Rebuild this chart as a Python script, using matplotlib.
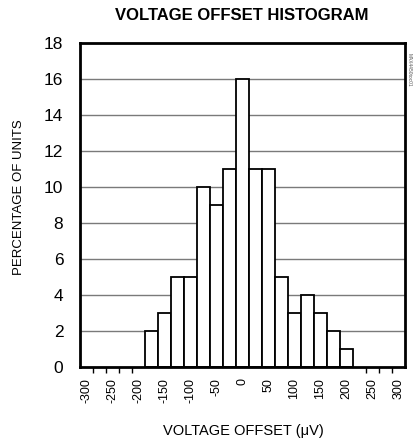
import matplotlib
matplotlib.use("Agg")
import matplotlib.pyplot as plt
from matplotlib.ticker import FixedLocator

FAM = ['Liberation Sans Narrow', 'DejaVu Sans Condensed', 'Liberation Sans', 'DejaVu Sans']
plt.rcParams['font.family'] = FAM

# Data
bin_centers = [-175, -150, -125, -100, -75, -50, -25, 0, 25, 50, 75, 100, 125, 150, 175, 200]
percent_units = [2, 3, 5, 5, 10, 9, 11, 16, 11, 11, 5, 3, 4, 3, 2, 1]
x_tick_values = [-300, -250, -200, -150, -100, -50, 0, 50, 100, 150, 200, 250, 300]
x_minor_ticks = [-287.5, -262.5, -237.5, -212.5, 237.5, 262.5, 287.5]
y_tick_values = [0, 2, 4, 6, 8, 10, 12, 14, 16, 18]

W, H = 413, 447
fig = plt.figure(figsize=(W / 100, H / 100), dpi=100)
ax = fig.add_axes([80 / W, 80 / H, 325 / W, 324 / H])

ax.bar(bin_centers, percent_units, width=25, color='white', edgecolor='black',
       linewidth=1.3, zorder=3)

ax.set_xlim(-312.5, 312.5)
ax.set_ylim(0, 18)

ax.set_yticks(y_tick_values)
ax.set_yticklabels([str(v) for v in y_tick_values], fontsize=12.5)
ax.tick_params(axis='y', length=0, pad=12)
for v in y_tick_values[1:-1]:
    ax.axhline(v, color='#7a7a7a', linewidth=1.0, zorder=1)

ax.set_xticks(x_tick_values)
ax.set_xticklabels([str(v) for v in x_tick_values], rotation=90, fontsize=9)
ax.tick_params(axis='x', which='major', length=0, pad=8)
ax.xaxis.set_minor_locator(FixedLocator(x_minor_ticks))
ax.tick_params(axis='x', which='minor', length=4, width=1, direction='out')

for s in ax.spines.values():
    s.set_linewidth(2.0)
    s.set_zorder(5)

fig.text(242 / W, 1 - 16 / H, 'VOLTAGE OFFSET HISTOGRAM', ha='center', va='center',
         fontsize=12, fontweight='bold')
fig.text(19 / W, 1 - 197 / H, 'PERCENTAGE OF UNITS', rotation=90, ha='center',
         va='center', fontsize=9.5)
fig.text(243 / W, 1 - 431 / H, 'VOLTAGE OFFSET (\u03bcV)', ha='center', va='center',
         fontsize=10.5)
fig.text(409 / W, 1 - 70 / H, 'MAX4450toc01', rotation=270, ha='center', va='center',
         fontsize=3.5, color='#555555')

fig.savefig('out.png', dpi=100)
